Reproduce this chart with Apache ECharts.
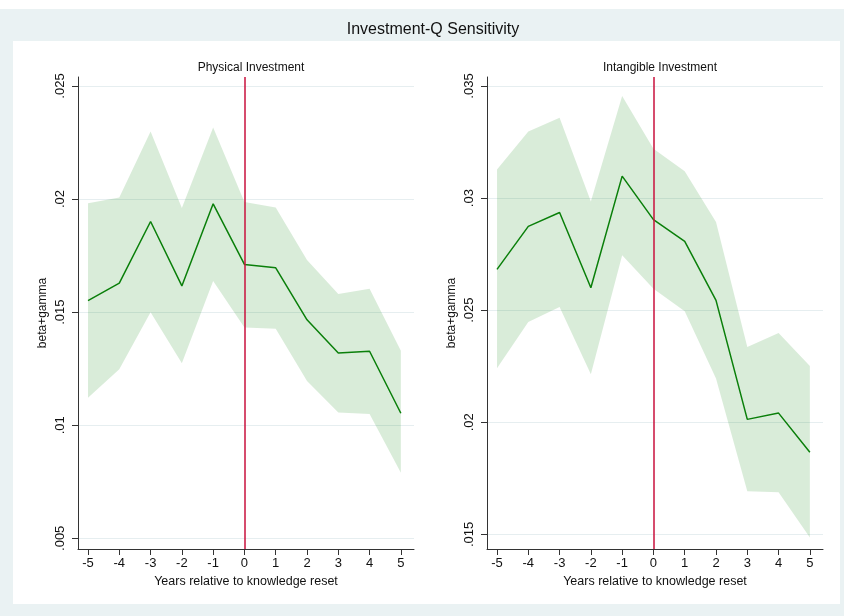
<!DOCTYPE html>
<html>
<head>
<meta charset="utf-8">
<script src="https://cdn.jsdelivr.net/npm/echarts@6/dist/echarts.min.js"></script>
<style>
  html, body { margin: 0; padding: 0; background: #fff; }
  #chart { width: 844px; height: 616px; }
</style>
</head>
<body>
<div id="chart"></div>
<script>
// years relative to knowledge reset
const years = [-5, -4, -3, -2, -1, 0, 1, 2, 3, 4, 5];

// Physical investment: point estimate and CI band
const physEst   = [0.01551, 0.01628, 0.01901, 0.01616, 0.01979, 0.01711, 0.01696, 0.01466, 0.01319, 0.01327, 0.01053];
const physUpper = [0.01982, 0.02007, 0.02299, 0.01960, 0.02317, 0.01987, 0.01963, 0.01731, 0.01580, 0.01603, 0.01329];
const physLower = [0.01122, 0.01248, 0.01500, 0.01274, 0.01638, 0.01432, 0.01427, 0.01196, 0.01056, 0.01050, 0.00790];

// Intangible investment
const intgEst   = [0.02682, 0.02874, 0.02936, 0.02600, 0.03098, 0.02904, 0.02807, 0.02544, 0.02013, 0.02041, 0.01866];
const intgUpper = [0.03128, 0.03297, 0.03358, 0.02985, 0.03455, 0.03220, 0.03120, 0.02893, 0.02336, 0.02398, 0.02251];
const intgLower = [0.02241, 0.02447, 0.02514, 0.02214, 0.02745, 0.02596, 0.02495, 0.02195, 0.01692, 0.01688, 0.01486];

// tick values
const physTicks = [0.005, 0.01, 0.015, 0.02, 0.025];
const intgTicks = [0.015, 0.02, 0.025, 0.03, 0.035];

const FONT = 'Liberation Sans, Arial, sans-serif';
const chart = echarts.init(document.getElementById('chart'));

function fmtTick(v) {
    // Stata style: .005, .01, .025
    return String(+v.toFixed(4)).replace(/^0\./, '.');
}

function pairs(xs, ys) {
    return xs.map((x, i) => [x, ys[i]]);
}

function xAxisOf(idx) {
    return {
        type: 'value', gridIndex: idx, min: -5.32, max: 5.42,
        name: 'Years relative to knowledge reset',
        nameLocation: 'middle', nameGap: 23,
        nameTextStyle: { fontFamily: FONT, fontSize: 12.5, color: '#111' },
        axisLine: { show: true, onZero: false, lineStyle: { color: '#333', width: 1 } },
        axisTick: { show: true, length: 6, customValues: years, lineStyle: { color: '#333' } },
        axisLabel: { customValues: years, margin: 8, fontFamily: FONT, fontSize: 13, color: '#111' },
        splitLine: { show: false }
    };
}
function yAxisOf(idx, min, max, ticks) {
    return {
        type: 'value', gridIndex: idx, min: min, max: max,
        name: 'beta+gamma',
        nameLocation: 'middle', nameGap: 29,
        nameTextStyle: { fontFamily: FONT, fontSize: 12, color: '#111' },
        axisLine: { show: true, onZero: false, lineStyle: { color: '#333', width: 1 } },
        axisTick: { show: true, length: 6, customValues: ticks, lineStyle: { color: '#333' } },
        axisLabel: {
            customValues: ticks, rotate: 90, margin: 11,
            fontFamily: FONT, fontSize: 13, color: '#111',
            formatter: fmtTick
        },
        splitLine: { show: true, customValues: ticks, lineStyle: { color: '#e6eef0', width: 1 } }
    };
}

// confidence band drawn as one polygon through the axis scales
function bandSeries(idx, lower, upper) {
    return {
        type: 'custom', xAxisIndex: idx, yAxisIndex: idx, silent: true, z: 1,
        data: pairs(years, lower),
        encode: { x: 0, y: 1 },
        renderItem: function (params, api) {
            if (params.dataIndex !== 0) return;
            let pts = [];
            for (let i = 0; i < years.length; i++) pts.push(api.coord([years[i], upper[i]]));
            for (let i = years.length - 1; i >= 0; i--) pts.push(api.coord([years[i], lower[i]]));
            return {
                type: 'polygon',
                shape: { points: pts },
                style: { fill: 'rgba(0,128,0,0.15)' }
            };
        }
    };
}
function estSeries(idx, est) {
    return {
        type: 'line', xAxisIndex: idx, yAxisIndex: idx,
        data: pairs(years, est), symbol: 'none', z: 3,
        lineStyle: { color: '#0a7f0a', width: 1.5 },
        markLine: {
            silent: true, symbol: 'none', label: { show: false },
            lineStyle: { color: '#c8103c', width: 1.5, type: 'solid' },
            data: [{ xAxis: 0 }]
        }
    };
}

const option = {
    backgroundColor: '#eaf2f3',
    animation: false,
    graphic: [
        { type: 'rect', shape: { x: 0, y: 0, width: 844, height: 9 }, style: { fill: '#ffffff' }, z: -10 },
        { type: 'rect', shape: { x: 13, y: 41, width: 827, height: 563 }, style: { fill: '#ffffff' }, z: -10 }
    ],
    title: [
        { text: 'Investment-Q Sensitivity', left: 428, top: 17, textAlign: 'center',
          textStyle: { fontFamily: FONT, fontSize: 16, fontWeight: 'normal', color: '#111' } },
        { text: 'Physical Investment', left: 246, top: 57, textAlign: 'center',
          textStyle: { fontFamily: FONT, fontSize: 12, fontWeight: 'normal', color: '#111' } },
        { text: 'Intangible Investment', left: 655, top: 57, textAlign: 'center',
          textStyle: { fontFamily: FONT, fontSize: 12, fontWeight: 'normal', color: '#111' } }
    ],
    grid: [
        { left: 78, top: 77, width: 336, height: 472 },
        { left: 487, top: 77, width: 336, height: 472 }
    ],
    xAxis: [xAxisOf(0), xAxisOf(1)],
    yAxis: [
        yAxisOf(0, 0.004527, 0.025398, physTicks),
        yAxisOf(1, 0.014348, 0.035402, intgTicks)
    ],
    series: [
        bandSeries(0, physLower, physUpper),
        estSeries(0, physEst),
        bandSeries(1, intgLower, intgUpper),
        estSeries(1, intgEst)
    ]
};

chart.setOption(option);
</script>
</body>
</html>
